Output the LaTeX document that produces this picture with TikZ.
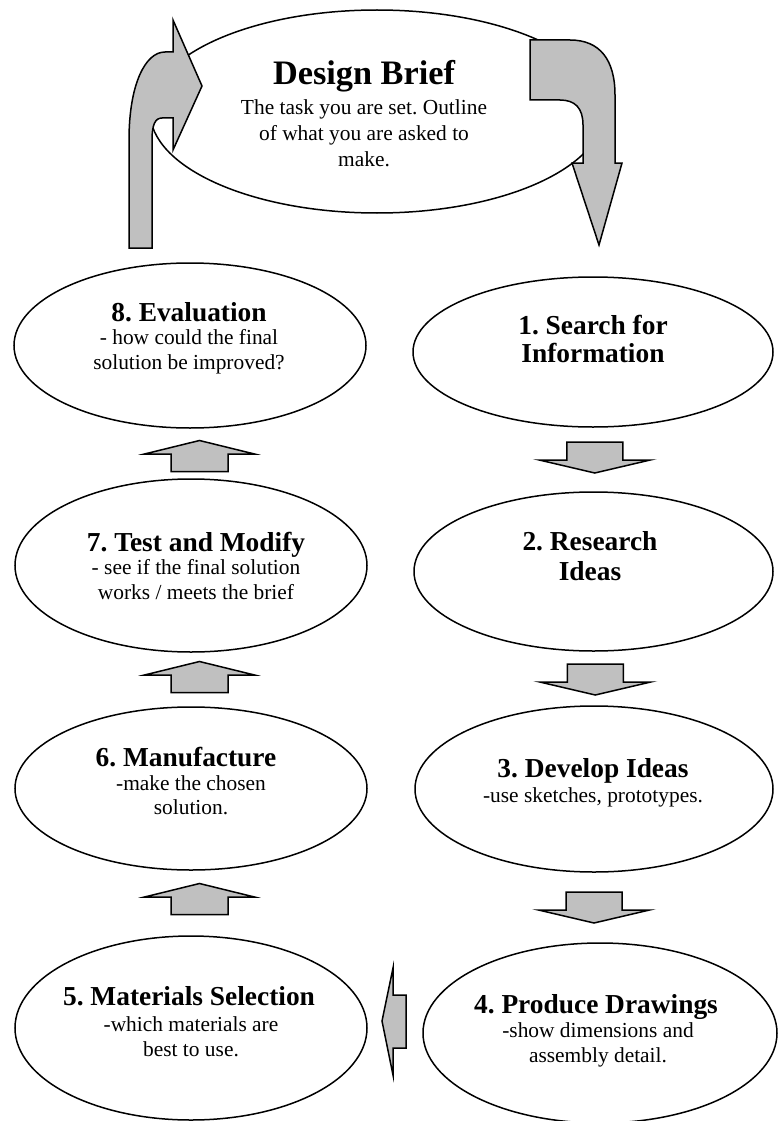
\documentclass[tikz,border=0pt]{standalone}
\usepackage{fontspec}
\setmainfont{Liberation Serif}
\usetikzlibrary{shapes.geometric,calc}
\definecolor{arrowgray}{HTML}{C0C0C0}

\begin{document}
\frenchspacing
\begin{tikzpicture}[x=1pt,y=-1pt,
  stage/.style={ellipse,draw=black,line width=1.5pt,fill=white,inner sep=0pt},
  titletext/.style={font=\fontsize{34.3}{40}\selectfont\bfseries,anchor=base,inner sep=0pt},
  headtext/.style={font=\fontsize{27.4}{32}\selectfont\bfseries,anchor=base,inner sep=0pt},
  bodytext/.style={font=\fontsize{21.4}{25}\selectfont,anchor=base,inner sep=0pt},
  block/.style={fill=arrowgray,draw=black,line width=1.5pt},
  uparrow/.pic={\path[block] (0,-15.5) -- (55,-2) -- (28.5,-2) -- (28.5,15.5)
      -- (-28.5,15.5) -- (-28.5,-2) -- (-55,-2) -- cycle;},
  downarrow/.pic={\path[block] (-28,-15.5) -- (28,-15.5) -- (28,2.5) -- (55.5,2.5)
      -- (0,15.5) -- (-55.5,2.5) -- (-28,2.5) -- cycle;}
]
\useasboundingbox (0,0) rectangle (781,1121);

% the brief at the top of the cycle
\node[stage,minimum width=454,minimum height=203] (brief) at (377,111.5) {};
\node[titletext] (briefT) at (364,85) {Design Brief};
\node[bodytext] (briefA) at (364,115) {The task you are set. Outline};
\node[bodytext] (briefB) at (364,140) {of what you are asked to};
\node[bodytext] (briefC) at (364,166) {make.};

% bent arrow from the evaluation back into the brief
\path[block] (129,248) -- (129,140) .. controls (129,85) and (145,52) .. (165,52)
  -- (173,52) -- (173,20) -- (202,86) -- (173,150) -- (173,118) -- (162,118)
  .. controls (155,118) and (152,125) .. (152,140) -- (152,248) -- cycle;

% bent arrow from the brief down to the first stage
\path[block] (530,40) -- (570,40) .. controls (600,40) and (615,60) .. (615,95)
  -- (615,163) -- (622,163) -- (599,245) -- (572,163) -- (583,163) -- (583,125)
  .. controls (583,108) and (575,100) .. (560,100) -- (530,100) -- cycle;

% right column: stages 1 to 4
\node[stage,minimum width=360,minimum height=150] (s1) at (593,352) {};
\node[headtext] (s1a) at (593,334) {1. Search for};
\node[headtext] (s1b) at (593,362) {Information};

\node[stage,minimum width=359,minimum height=159] (s2) at (593.5,571.5) {};
\node[headtext] (s2a) at (590,550) {2. Research};
\node[headtext] (s2b) at (590,580) {Ideas};

\node[stage,minimum width=358,minimum height=166] (s3) at (594,789) {};
\node[headtext] (s3a) at (593,777) {3. Develop Ideas};
\node[bodytext] (s3b) at (593,802) {-use sketches, prototypes.};

\node[stage,minimum width=354,minimum height=180] (s4) at (600,1033) {};
\node[headtext] (s4a) at (596,1013) {4. Produce Drawings};
\node[bodytext] (s4b) at (598,1037) {-show dimensions and};
\node[bodytext] (s4c) at (598,1062) {assembly detail.};

% left column: stages 5 to 8
\node[stage,minimum width=352,minimum height=184] (s5) at (191,1028) {};
\node[headtext] (s5a) at (189,1005) {5. Materials Selection};
\node[bodytext] (s5b) at (191,1031) {-which materials are};
\node[bodytext] (s5c) at (191,1056) {best to use.};

\node[stage,minimum width=352,minimum height=163] (s6) at (191,788.5) {};
\node[headtext] (s6a) at (186,766) {6. Manufacture};
\node[bodytext] (s6b) at (191,790) {-make the chosen};
\node[bodytext] (s6c) at (191,814) {solution.};

\node[stage,minimum width=352,minimum height=173] (s7) at (191,565.5) {};
\node[headtext] (s7a) at (196,551) {7. Test and Modify};
\node[bodytext] (s7b) at (196,574) {- see if the final solution};
\node[bodytext] (s7c) at (196,599) {works / meets the brief};

\node[stage,minimum width=352,minimum height=165] (s8) at (190,345.5) {};
\node[headtext] (s8a) at (189,321) {8. Evaluation};
\node[bodytext] (s8b) at (189,344) {- how could the final};
\node[bodytext] (s8c) at (189,369) {solution be improved?};

% block arrows between the stages
\pic at ($(s1.south)!0.5!(s2.north)+(1.5,-2)$) {downarrow};
\pic at ($(s2.south)!0.5!(s3.north)+(1.5,1)$) {downarrow};
\pic at ($(s3.south)!0.5!(s4.north)+(-3,0)$) {downarrow};

\path[block] (382,1021) -- (393,968) -- (393,995) -- (406,995) -- (406,1048)
  -- (393,1048) -- (393,1075) -- cycle;

\pic at ($(s5.north)!0.5!(s6.south)+(8.5,-4)$) {uparrow};
\pic at ($(s6.north)!0.5!(s7.south)+(8.5,-2.5)$) {uparrow};
\pic at ($(s7.north)!0.5!(s8.south)+(9,2.5)$) {uparrow};

\end{tikzpicture}
\end{document}
